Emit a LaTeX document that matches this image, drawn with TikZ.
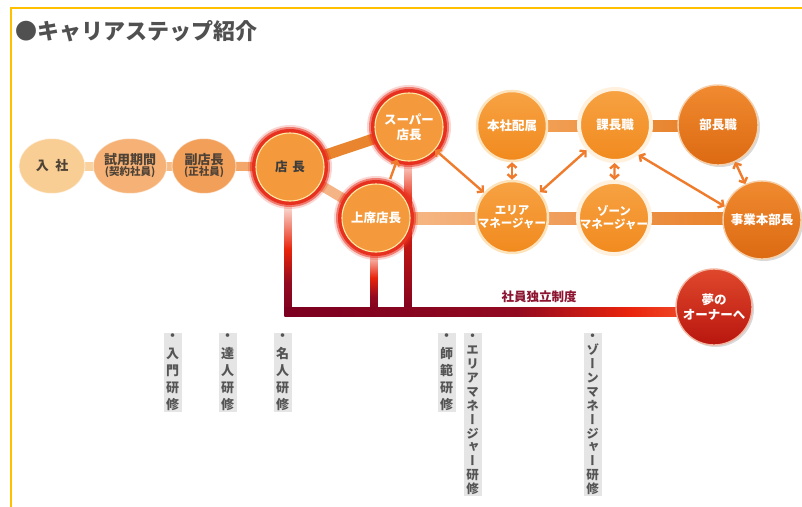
\documentclass[tikz,border=0pt]{standalone}
\usepackage{fontspec}
\setmainfont{Noto Sans CJK JP}
\newfontfamily\cjkv[RawFeature=+vert]{Noto Sans CJK JP}
\usetikzlibrary{shapes.geometric,arrows.meta,shadows,calc}
\pgfdeclarelayer{bg}
\pgfsetlayers{bg,main}
\definecolor{frameY}{HTML}{FFC000}
\definecolor{titleG}{HTML}{505050}
\definecolor{cA}{HTML}{F9CE94}
\definecolor{cB}{HTML}{F6B276}
\definecolor{cC}{HTML}{F29F5A}
\definecolor{bA}{HTML}{F9D2A0}
\definecolor{bB}{HTML}{F6BC88}
\definecolor{bC}{HTML}{F3A76A}
\definecolor{ltxt}{HTML}{4E4236}
\definecolor{orng}{HTML}{F49A3C}
\definecolor{cream}{HTML}{FFE9A6}
\definecolor{glowR}{HTML}{E8301F}
\definecolor{dtxt}{HTML}{3C3C3C}
\definecolor{ringT}{HTML}{F7A243}
\definecolor{ringB}{HTML}{F18A1E}
\definecolor{ringC}{HTML}{FCE3BC}
\definecolor{ringW}{HTML}{FFF1DD}
\definecolor{dkT}{HTML}{F08A30}
\definecolor{dkB}{HTML}{DC6A12}
\definecolor{dkC}{HTML}{F6CFA8}
\definecolor{ymT}{HTML}{E0482C}
\definecolor{ymB}{HTML}{B8160E}
\definecolor{ymC}{HTML}{F3B4A0}
\definecolor{barTS}{HTML}{E8852E}
\definecolor{barTJ}{HTML}{F4B486}
\definecolor{hL}{HTML}{F7BC8E}
\definecolor{hR}{HTML}{E77C22}
\definecolor{tL}{HTML}{F4A65E}
\definecolor{tR}{HTML}{E47C24}
\definecolor{arrC}{HTML}{EF7B2C}
\definecolor{seidoC}{HTML}{8C1430}
\definecolor{vfill}{HTML}{E5E5E5}
\definecolor{vtxt}{HTML}{555555}
\definecolor{dred}{HTML}{7C0020}
\definecolor{dredB}{HTML}{920A20}
\definecolor{bred}{HTML}{E8240C}
\definecolor{bredB}{HTML}{F04A2A}
\definecolor{pred}{HTML}{F9B8A6}
\definecolor{paleR}{HTML}{FBE2DA}
\pgfdeclarehorizontalshading{redbar}{100bp}{color(0bp)=(dred); color(25bp)=(dred); color(52bp)=(dredB); color(65bp)=(bred); color(72bp)=(bredB); color(75bp)=(pred); color(100bp)=(pred)}
\pgfdeclareverticalshading{redvert}{100bp}{color(0bp)=(dred); color(25bp)=(dred); color(40bp)=(dredB); color(55bp)=(bred); color(75bp)=(paleR); color(100bp)=(paleR)}
\begin{document}
\begin{tikzpicture}[x=1pt,y=-1pt,
  lnode/.style={ellipse, minimum width=66pt, minimum height=55pt, inner sep=0pt,
    draw=white, draw opacity=0.5, line width=1pt, text=ltxt, align=center},
  glownode/.style={circle, minimum size=68pt, inner sep=0pt, fill=orng, draw=cream,
    line width=1.1pt, align=center, font=\fontsize{12.5}{15}\selectfont\bfseries,
    preaction={draw=glowR, draw opacity=0.2, line width=16pt},
    preaction={draw=glowR, draw opacity=0.55, line width=12pt},
    preaction={draw=glowR, line width=8pt}},
  ringnode/.style={circle, minimum size=#1, inner sep=0pt, top color=ringT, bottom color=ringB,
    draw=ringC, line width=2.5pt, text=white, align=center,
    font=\fontsize{12.5}{14}\selectfont\bfseries},
  ringthick/.style={ringnode=#1, draw=ringW, line width=4pt},
  darknode/.style={circle, minimum size=#1, inner sep=0pt, top color=dkT, bottom color=dkB,
    draw=dkC, line width=1.4pt, text=white, align=center,
    font=\fontsize{12.5}{14}\selectfont\bfseries,
    drop shadow={opacity=0.3, shadow xshift=2pt, shadow yshift=-2pt}},
  yumenode/.style={circle, minimum size=76pt, inner sep=0pt, top color=ymT, bottom color=ymB,
    draw=ymC, line width=1.4pt, text=white, align=center,
    font=\fontsize{12.5}{15}\selectfont\bfseries,
    drop shadow={opacity=0.3, shadow xshift=2pt, shadow yshift=-2pt}},
  dbl/.style={draw=arrC, line width=2.4pt,
    arrows={Straight Barb[length=4pt,width=9pt]-Straight Barb[length=4pt,width=9pt]}},
  sgl/.style={draw=arrC, line width=2.4pt, arrows={-Straight Barb[length=4pt,width=9pt]}},
  vlab/.style={anchor=north, fill=vfill, text=vtxt, inner xsep=2pt, inner ysep=1pt,
    text width=14pt, align=center},
  vshort/.style={font=\cjkv\fontsize{13}{17.2}\selectfont\bfseries},
  vlong/.style={font=\cjkv\fontsize{12.5}{13.9}\selectfont\bfseries}
]
\useasboundingbox (0,0) rectangle (802,506);
\draw[frameY, line width=2pt] (10.5,507) -- (10.5,8) -- (803,8);

\node[anchor=west, inner sep=0pt, text=titleG, font=\fontsize{22}{24}\selectfont\bfseries]
  (title) at (15,31) {●キャリアステップ紹介};

% left chain
\node[lnode, fill=cA, minimum width=66pt, font=\fontsize{13}{15}\selectfont\bfseries] (nyusha) at (52,166) {入\hspace{0.5em}社};
\node[lnode, fill=cB, minimum width=68pt] (shiyo) at (130,166)
  {{\fontsize{13}{13}\selectfont\bfseries 試用期間}\\[-1pt]{\fontsize{10.5}{12}\selectfont\bfseries (契約社員)}};
\node[lnode, fill=cC, minimum width=64pt] (fuku) at (204,166)
  {{\fontsize{13}{13}\selectfont\bfseries 副店長}\\[-1pt]{\fontsize{10.5}{12}\selectfont\bfseries (正社員)}};

% store managers
\node[glownode, text=dtxt] (tencho) at (290,167) {店\hspace{0.4em}長};
\node[glownode, text=white] (super) at (409,127) {スーパー\\店長};
\node[glownode, text=white] (jouseki) at (376,218) {上席店長};

% upper right
\node[ringnode=70pt] (honsha) at (512,126) {本社配属};
\node[ringthick=72pt] (kacho) at (615,125) {課長職};
\node[darknode=80pt] (bucho) at (718,125) {部長職};
\node[ringnode=72pt, font=\fontsize{11.5}{13}\selectfont\bfseries] (area) at (512,217) {エリア\\マネージャー};
\node[ringthick=72pt, font=\fontsize{11.5}{13}\selectfont\bfseries] (zone) at (614,218) {ゾーン\\マネージャー};
\node[darknode=78pt] (jigyo) at (762,220) {事業本部長};
\node[yumenode] (yume) at (714,307) {夢の\\オーナーへ};

\node[text=seidoC, inner sep=0pt, font=\fontsize{12.5}{14}\selectfont\bfseries] (seido) at (539,297) {社員独立制度};

% connectors behind nodes
\begin{pgfonlayer}{bg}
  \draw[bA, line width=9pt] (nyusha.center) -- (shiyo.center);
  \draw[bB, line width=9pt] (shiyo.center) -- (fuku.center);
  \draw[bC, line width=9pt] (fuku.center) -- (tencho.center);
  \draw[barTS, line width=11pt] (tencho.center) -- (super.center);
  \draw[barTJ, line width=10pt] (tencho.center) -- (jouseki.center);
  \shade[left color=hL, right color=hR] ($(jouseki.center)+(0,-6)$) rectangle ($(jigyo.center)+(0,4)$);
  \shade[left color=tL, right color=tR] ($(honsha.center)+(0,-6)$) rectangle ($(bucho.center)+(0,6)$);
  % independence lines
  \shade[shading=redvert] (284.5,205) rectangle (291.5,316);
  \shade[shading=redvert] (370.5,252) rectangle (377.5,316);
  \shade[top color=paleR, bottom color=bred] (404.5,160) rectangle (411.5,202);
  \shade[top color=bred, bottom color=dred] (404.5,201) rectangle (411.5,316);
  \shade[shading=redbar] (284.5,307.5) rectangle ($(yume.center)+(0,9.5)$);
\end{pgfonlayer}

% arrows
\draw[sgl, shorten <=7pt] (jouseki) -- (super);
\draw[dbl] (super) -- (area);
\draw[dbl] (honsha) -- (area);
\draw[dbl] (kacho) -- (area);
\draw[dbl] (kacho) -- (zone);
\draw[dbl] (kacho.-52) -- (jigyo.160);
\draw[dbl] (bucho) -- (jigyo);

% training labels
\node[vlab, vshort] (k1) at (172.5,333) {・\\入\\門\\研\\修};
\node[vlab, vshort] (k2) at (227.5,333) {・\\達\\人\\研\\修};
\node[vlab, vshort] (k3) at (282.5,333) {・\\名\\人\\研\\修};
\node[vlab, vshort] (k4) at (446.5,333) {・\\師\\範\\研\\修};
\node[vlab, vlong] (k5) at (472.5,333) {・\\エ\\リ\\ア\\マ\\ネ\\ー\\ジ\\ャ\\ー\\研\\修};
\node[vlab, vlong] (k6) at (592.5,333) {・\\ゾ\\ー\\ン\\マ\\ネ\\ー\\ジ\\ャ\\ー\\研\\修};
\end{tikzpicture}
\end{document}
